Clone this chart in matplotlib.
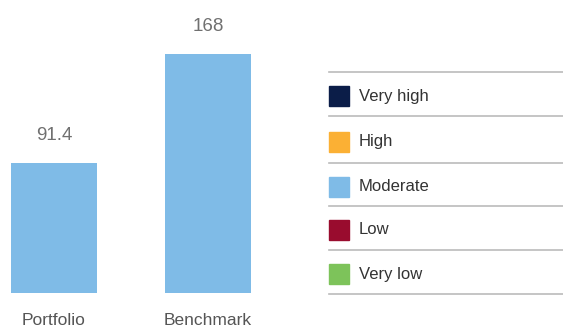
import matplotlib.pyplot as plt
from matplotlib.patches import Rectangle

categories = ["Portfolio", "Benchmark"]
values = [91.4, 168]
value_labels = ["91.4", "168"]
legend_labels = ["Very high", "High", "Moderate", "Low", "Very low"]
legend_colors = ["#0b1d48", "#fbb034", "#7fbbe7", "#990c2e", "#7dc35a"]
bar_color = "#7fbbe7"

plt.rcParams['font.family'] = ['Liberation Sans', 'DejaVu Sans']

W, H = 563, 327
fig = plt.figure(figsize=(W / 100, H / 100), dpi=100)

# bar axes, placed in pixel terms
base = 293          # bar bottom (px from top)
px_per_unit = 239 / 168
ax = fig.add_axes([0, (H - base) / H, 300 / W, base / H])
ax.bar(range(len(values)), values, width=86 / 154, color=bar_color)
ax.set_xlim(-54 / 154, (300 - 54) / 154)
ax.set_ylim(0, base / px_per_unit)
ax.axis('off')
for i, (v, lab) in enumerate(zip(values, value_labels)):
    ax.annotate(lab, (i, v), xytext=(0, 14), textcoords='offset points',
                ha='center', va='bottom', fontsize=13.5, color='#707070')
for i, c in enumerate(categories):
    ax.annotate(c, (i, 0), xytext=(0, -14.5), textcoords='offset points',
                ha='center', va='top', fontsize=12.5, color='#555555')

# legend drawn in a full-figure pixel axes
lg = fig.add_axes([0, 0, 1, 1])
lg.set_xlim(0, W)
lg.set_ylim(H, 0)
lg.axis('off')
rule_y = [72, 116, 163, 206, 250, 294]
for y in rule_y:
    lg.plot([329, 563], [y, y], color='#bbbbbb', lw=1.2)
for i, (lab, col) in enumerate(zip(legend_labels, legend_colors)):
    cy = (rule_y[i] + rule_y[i + 1]) / 2 + 2
    lg.add_patch(Rectangle((329, cy - 10), 20, 20, color=col))
    lg.text(359, cy, lab, va='center', ha='left', fontsize=12, color='#333333')

fig.savefig("out.png", dpi=100)
